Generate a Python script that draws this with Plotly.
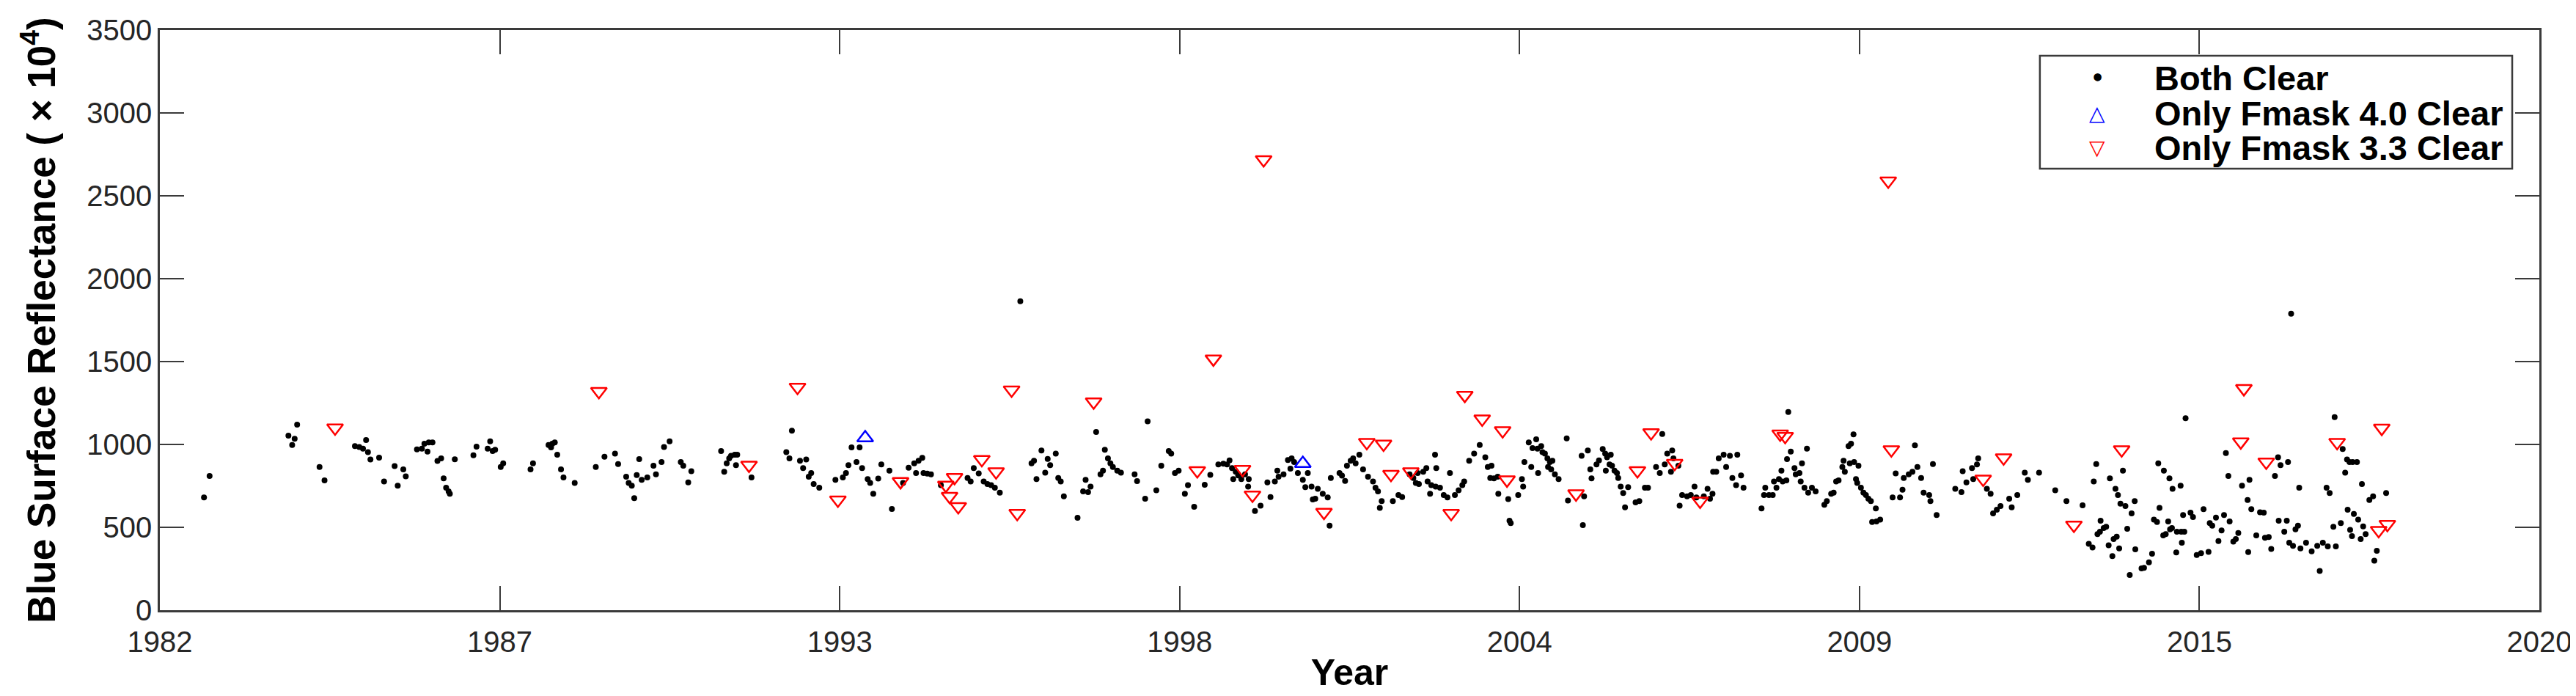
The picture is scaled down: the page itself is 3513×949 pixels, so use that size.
import datetime as dt
import plotly.graph_objects as go

# ---------------- data (decimal year, reflectance x 1e4) ----------------
both_year = [
    1982.95, 1983.04, 1984.31, 1984.41, 1984.37, 1984.45, 1984.81, 1984.89, 1985.38, 1985.45,
    1985.51, 1985.56, 1985.59, 1985.63, 1985.77, 1985.85, 1986.02, 1986.07, 1986.16, 1986.20,
    1986.38, 1986.46, 1986.50, 1986.55, 1986.57, 1986.63, 1986.71, 1986.77, 1986.81, 1986.85,
    1986.89, 1986.91, 1986.99, 1987.29, 1987.34, 1987.52, 1987.56, 1987.60, 1987.64, 1987.73,
    1987.77,
    1988.21, 1988.25, 1988.50, 1988.54, 1988.56, 1988.60, 1988.64, 1988.70, 1988.74, 1988.92,
    1989.26, 1989.40, 1989.57, 1989.62, 1989.75, 1989.79, 1989.84, 1989.88, 1989.92, 1989.96,
    1990.00, 1990.09, 1990.19, 1990.23, 1990.32, 1990.36, 1990.45, 1990.63, 1990.67, 1990.75,
    1990.80, 1991.28, 1991.33, 1991.37, 1991.41, 1991.44, 1991.50, 1991.54, 1991.52, 1991.77,
    1992.33, 1992.38, 1992.42, 1992.55, 1992.60, 1992.65, 1992.69, 1992.73, 1992.77, 1992.86,
    1993.12,
    1993.24, 1993.29, 1993.33, 1993.38, 1993.46, 1993.51, 1993.55, 1993.64, 1993.68, 1993.73,
    1993.81, 1993.86, 1993.99, 1994.03, 1994.21, 1994.30, 1994.39, 1994.42, 1994.46, 1994.52,
    1994.54, 1994.60, 1994.66, 1994.82, 1995.25, 1995.30, 1995.35, 1995.43, 1995.51, 1995.57,
    1995.63, 1995.69, 1995.77, 1996.10, 1996.28, 1996.32, 1996.36, 1996.44, 1996.50, 1996.54,
    1996.58, 1996.67, 1996.71, 1996.75, 1996.80, 1997.02, 1997.11, 1997.15, 1997.19, 1997.23,
    1997.32, 1997.39, 1997.43, 1997.46, 1997.51, 1997.55, 1997.59, 1997.66, 1997.72, 1997.94,
    1997.98, 1998.11, 1998.15, 1998.29, 1998.37, 1998.49, 1998.53, 1998.59, 1998.65, 1998.75,
    1998.80, 1998.90, 1999.07, 1999.16, 1999.29, 1999.37, 1999.43, 1999.47, 1999.51, 1999.53,
    1999.57, 1999.61, 1999.66, 1999.72, 1999.77, 1999.78, 1999.88, 1999.97, 2000.08, 2000.13,
    2000.20, 2000.24, 2000.26, 2000.34, 2000.41, 2000.45, 2000.47, 2000.51, 2000.57, 2000.65,
    2000.69, 2000.73, 2000.79, 2000.81, 2000.85, 2000.89, 2000.97, 2001.05, 2001.08, 2001.10,
    2001.24, 2001.28, 2001.33, 2001.36, 2001.42, 2001.46, 2001.50, 2001.56, 2001.62, 2001.70,
    2001.78, 2001.82, 2001.86, 2001.89, 2001.92, 2002.10, 2002.19, 2002.25, 2002.37, 2002.43,
    2002.47, 2002.50, 2002.52, 2002.59, 2002.64, 2002.66, 2002.70, 2002.72, 2002.78, 2002.79,
    2002.80, 2002.86, 2002.92, 2002.98, 2003.02, 2003.10, 2003.16, 2003.22, 2003.25, 2003.33,
    2003.41, 2003.50, 2003.59, 2003.63, 2003.67, 2003.69, 2003.73, 2003.79, 2003.80, 2003.96,
    2003.98, 2004.00, 2004.12, 2004.18, 2004.20, 2004.22,
    2004.29, 2004.33, 2004.35, 2004.41, 2004.43, 2004.44, 2004.49, 2004.51, 2004.55, 2004.59,
    2004.60, 2004.63, 2004.65, 2004.67, 2004.71, 2004.77, 2004.90, 2004.92, 2005.14, 2005.16,
    2005.18, 2005.24, 2005.28, 2005.30, 2005.38, 2005.42, 2005.48, 2005.52, 2005.53, 2005.55,
    2005.59, 2005.61, 2005.63, 2005.67, 2005.71, 2005.73, 2005.77, 2005.81, 2005.84, 2005.89,
    2006.01, 2006.07, 2006.16, 2006.21, 2006.34, 2006.40, 2006.44, 2006.48, 2006.52, 2006.58,
    2006.60, 2006.62, 2006.70, 2006.72, 2006.76, 2006.84, 2006.90, 2006.96, 2006.99, 2007.11,
    2007.17, 2007.21, 2007.25, 2007.26, 2007.31, 2007.35, 2007.43, 2007.47, 2007.53, 2007.57,
    2007.63, 2007.65, 2007.71, 2007.75, 2008.04, 2008.08, 2008.10, 2008.16, 2008.22, 2008.24,
    2008.28, 2008.32, 2008.36, 2008.38, 2008.44, 2008.45, 2008.47, 2008.51, 2008.57, 2008.59,
    2008.65, 2008.67, 2008.69, 2008.73, 2008.77, 2008.79, 2008.85, 2008.91, 2009.05, 2009.09,
    2009.16, 2009.20, 2009.24, 2009.28, 2009.34, 2009.36, 2009.38, 2009.44, 2009.46, 2009.48,
    2009.52, 2009.53, 2009.56, 2009.58, 2009.60, 2009.64, 2009.68,
    2009.72, 2009.76, 2009.80, 2009.82, 2009.88, 2009.89, 2009.95, 2010.15, 2010.20, 2010.27,
    2010.31, 2010.33, 2010.41, 2010.47, 2010.51, 2010.55, 2010.61, 2010.65, 2010.74, 2010.76,
    2010.80, 2010.86, 2011.16, 2011.26, 2011.28, 2011.34, 2011.43, 2011.45, 2011.51, 2011.53,
    2011.67, 2011.73, 2011.77, 2011.83, 2011.89, 2012.03, 2012.07, 2012.16, 2012.28, 2012.33,
    2012.51, 2012.77, 2012.95, 2013.21, 2013.31, 2013.37, 2013.39, 2013.43, 2013.45, 2013.49,
    2013.50, 2013.55, 2013.59, 2013.63, 2013.65, 2013.69, 2013.71, 2013.74, 2013.76, 2013.78,
    2013.80, 2013.82, 2013.86, 2013.90, 2013.93, 2013.97, 2014.00, 2014.05, 2014.06, 2014.16,
    2014.20, 2014.28, 2014.33, 2014.36, 2014.41, 2014.43, 2014.45, 2014.51, 2014.52, 2014.55,
    2014.59, 2014.61, 2014.62, 2014.65, 2014.66, 2014.72, 2014.73, 2014.79, 2014.80, 2014.81,
    2014.83, 2014.85, 2014.87, 2014.95, 2014.99, 2015.05, 2015.12, 2015.16,
    2015.24, 2015.26, 2015.30, 2015.36, 2015.40, 2015.45, 2015.49, 2015.52, 2015.56, 2015.58,
    2015.64, 2015.68, 2015.72, 2015.78, 2015.87, 2015.88, 2015.90, 2015.93, 2016.01, 2016.07,
    2016.13, 2016.15, 2016.21, 2016.25, 2016.31, 2016.36, 2016.37, 2016.40, 2016.46, 2016.50,
    2016.52, 2016.54, 2016.57, 2016.60, 2016.64, 2016.68, 2016.70, 2016.72, 2016.81, 2016.90,
    2016.99, 2017.03, 2017.08, 2017.14, 2017.16, 2017.19, 2017.25, 2017.27, 2017.29, 2017.37,
    2017.40, 2017.44, 2017.47, 2017.48, 2017.51, 2017.52, 2017.55, 2017.56, 2017.58, 2017.63,
    2017.65, 2017.69, 2017.71, 2017.73, 2017.77, 2017.83, 2017.89, 2017.91, 2017.95, 2018.10,
]
both_value = [
    680, 810, 1053, 1034, 997, 1120, 864, 783, 990, 985,
    975, 1027, 953, 909, 920, 776, 869, 751, 850, 808,
    970, 975, 1004, 957, 1012, 1012, 900, 916, 795, 739,
    717, 702, 910, 935, 987, 975, 1019, 960, 968, 864,
    886,
    850, 886, 997, 982, 1004, 1012, 938, 850, 801, 768,
    864, 926, 945, 882, 805, 768, 751, 676, 815, 911,
    786, 801, 872, 820, 894, 985, 1019, 894, 872, 771,
    839, 960, 835, 886, 916, 931, 938, 938, 875, 801,
    953, 916, 1083, 901, 857, 909, 805, 827, 761, 739,
    786,
    801, 827, 875, 982, 894, 982, 857, 791, 768, 702,
    794, 879, 842, 611, 768, 860, 886, 827, 901, 919,
    827, 824, 820, 754, 798, 776, 857, 825, 776, 761,
    754, 739, 709, 1864, 886, 901, 791, 963, 830, 913,
    875, 945, 798, 776, 687, 558, 717, 786, 712, 746,
    1075, 820, 842, 968, 916, 886, 864, 842, 830, 820,
    779, 673, 1139, 724, 872, 960, 945, 827, 842, 702,
    754, 624, 757, 816, 879, 884, 879, 904, 857, 791,
    835, 813, 791, 820, 746, 791, 599, 631, 771, 683,
    776, 842, 805, 820, 906, 854, 916, 894, 827, 786,
    742, 827, 746, 668, 673, 732, 702, 680, 510, 798,
    827, 812, 780, 872, 901, 916, 886, 938, 850, 805,
    776, 739, 717, 617, 658, 658, 695, 683, 820, 798,
    768, 827, 761, 835, 857, 776, 702, 754, 938, 746,
    857, 739, 695, 680, 827, 695, 724, 754, 776, 901,
    945, 997, 923, 864, 798, 872, 795, 805, 702, 670,
    540, 525, 695, 791, 746, 894,
    1012, 864, 978, 1031, 975, 827, 990, 953, 945, 916,
    864, 894, 850, 901, 820, 791, 1036, 661, 931, 513,
    687, 963, 850, 795, 879, 904, 972, 945, 842, 923,
    879, 938, 872, 842, 827, 798, 746, 707, 621, 742,
    650, 658, 739, 739, 864, 827, 1063, 879, 945, 835,
    963, 916, 872, 631, 695, 687, 695, 746, 680, 687,
    732, 673, 702, 835, 835, 916, 938, 864, 931, 798,
    754, 938, 813, 739, 614, 695, 739, 695, 695, 776,
    739, 791, 842, 776, 783, 911, 1196, 957, 857, 820,
    827, 776, 886, 739, 975, 709, 739, 717, 636, 658,
    702, 709, 776, 783, 864, 901, 835, 990, 886, 1004,
    1061, 894, 791, 768, 872, 739, 709,
    695, 673, 658, 532, 614, 535, 547, 680, 825, 680,
    727, 798, 820, 835, 994, 864, 798, 709, 695, 658,
    882, 574, 732, 712, 838, 771, 857, 791, 879, 916,
    732, 702, 584, 606, 628, 673, 621, 695, 830, 786,
    830, 724, 658, 633, 400, 378, 776, 882, 459, 473,
    540, 496, 503, 392, 795, 326, 429, 732, 444, 695,
    373, 643, 842, 628, 491, 212, 584, 658, 367, 252,
    255, 289, 341, 547, 532, 886, 617, 451, 842, 459,
    535, 795, 488, 496, 732, 348, 473, 751, 473, 407,
    574, 473, 1158, 589, 562, 333, 344, 609,
    352, 525, 510, 559, 417, 481, 574, 948, 810, 535,
    414, 429, 466, 751, 665, 351, 786, 609, 451, 591,
    588, 437, 441, 370, 810, 923, 540, 875, 473, 540,
    894, 407, 1789, 388, 488, 510, 739, 373, 407, 355,
    388, 237, 407, 739, 385, 707, 503, 1165, 385, 525,
    972, 830, 909, 606, 894, 484, 447, 894, 581, 894,
    547, 429, 761, 506, 459, 665, 687, 299, 358, 707,
]

fm4_year = [1993.60, 2000.65]
fm4_value = [1040, 885]

fm33_year = [
    1985.06, 1989.31, 1991.73, 1992.51, 1993.16, 1994.17, 1994.90, 1994.96, 1995.04, 1995.10,
    1995.48, 1995.71, 1995.96, 1996.05, 1997.28, 1998.95, 1999.21, 1999.68, 1999.84, 2000.02,
    2000.99, 2001.68, 2001.95, 2002.07, 2002.39, 2003.04, 2003.26, 2003.54, 2003.87, 2003.94,
    2005.05, 2006.04, 2006.26, 2006.64, 2007.05, 2008.34, 2008.42, 2010.08, 2010.13, 2011.61,
    2011.94, 2013.07, 2013.84, 2015.76, 2015.81, 2016.17, 2017.31, 2017.98, 2018.03, 2018.12,
]
fm33_value = [
    1100, 1320, 875, 1345, 665, 776, 754, 687, 801, 625,
    909, 835, 1329, 584, 1257, 842, 1516, 850, 695, 2718,
    591, 1012, 1002, 820, 835, 584, 1297, 1154, 1083, 786,
    702, 842, 1071, 886, 658, 1063, 1049, 2590, 968, 791,
    919, 513, 968, 1016, 1337, 894, 1012, 481, 1098, 518,
]

# axis ticks (MATLAB datetick positions, every 2000 days)
tick_dates = ["1982-03-29", "1987-09-19", "1993-03-11", "1998-09-01",
              "2004-02-22", "2009-08-14", "2015-02-04", "2020-07-27"]
tick_labels = ["1982", "1987", "1993", "1998", "2004", "2009", "2015", "2020"]
y_ticks = [0, 500, 1000, 1500, 2000, 2500, 3000, 3500]

legend_labels = ["Both Clear", "Only Fmask 4.0 Clear", "Only Fmask 3.3 Clear"]
legend_glyphs = ["•", "△", "▽"]
legend_colors = ["#000000", "#0000ff", "#ff0000"]


def to_date(y):
    base = dt.datetime(int(y), 1, 1)
    nxt = dt.datetime(int(y) + 1, 1, 1)
    return base + (nxt - base) * (y - int(y))


FONT = "Liberation Sans, Arial, Helvetica, sans-serif"
AX = "#3a3a3a"

fig = go.Figure()
fig.add_trace(go.Scatter(
    x=[to_date(v) for v in both_year], y=both_value, mode="markers",
    name=legend_labels[0], marker=dict(symbol="circle", size=8, color="black", line=dict(width=0)),
))
fig.add_trace(go.Scatter(
    x=[to_date(v) for v in fm4_year], y=fm4_value, mode="markers",
    name=legend_labels[1],
    marker=dict(symbol="triangle-up-open", size=19, color="#0000ff", line=dict(width=2.5, color="#0000ff")),
))
fig.add_trace(go.Scatter(
    x=[to_date(v) for v in fm33_year], y=fm33_value, mode="markers",
    name=legend_labels[2],
    marker=dict(symbol="triangle-down-open", size=19, color="#ff0000", line=dict(width=2.5, color="#ff0000")),
))

axis_common = dict(
    showline=True, linewidth=2.5, linecolor=AX, mirror="ticks",
    ticks="inside", ticklen=33, tickwidth=2, tickcolor=AX,
    showgrid=False, zeroline=False,
    tickfont=dict(family=FONT, size=40, color="#262626"),
)

fig.update_xaxes(
    type="date", range=[tick_dates[0], tick_dates[-1]],
    tickmode="array", tickvals=tick_dates, ticktext=tick_labels,
    ticklabelstandoff=6,
    title=dict(text="Year", font=dict(family=FONT, size=50, color="black", weight="bold"), standoff=4),
    **axis_common,
)
fig.update_yaxes(
    range=[0, 3500], tickmode="array", tickvals=y_ticks, ticktext=[str(v) for v in y_ticks],
    title=dict(text="Blue Surface Reflectance ( × 10<sup>4</sup>)",
               font=dict(family=FONT, size=53, color="black", weight="bold"), standoff=26),
    **axis_common,
)

# legend box (MATLAB-style, tight rows)
box_x0, box_x1, box_y0, box_y1 = 0.7901, 0.9886, 0.7611, 0.9558
row_y = [0.9178, 0.8571, 0.7977]
sym_x, txt_x = 0.8142, 0.8376
fig.add_shape(type="rect", xref="paper", yref="paper",
              x0=box_x0, x1=box_x1, y0=box_y0, y1=box_y1,
              line=dict(color=AX, width=2.5), fillcolor="white", layer="above")
glyph_sizes = [30, 28, 28]
for lab, gl, col, yy, gs in zip(legend_labels, legend_glyphs, legend_colors, row_y, glyph_sizes):
    fig.add_annotation(xref="paper", yref="paper", x=sym_x, y=yy, text=gl, showarrow=False,
                       xanchor="center", yanchor="middle",
                       font=dict(family="DejaVu Sans", size=gs, color=col, weight="bold"))
    fig.add_annotation(xref="paper", yref="paper", x=txt_x, y=yy, text=lab, showarrow=False,
                       xanchor="left", yanchor="middle",
                       font=dict(family=FONT, size=47, color="black", weight="bold"))

fig.update_layout(
    width=3513, height=949,
    margin=dict(l=210, r=58, t=33, b=125, autoexpand=False),
    paper_bgcolor="white", plot_bgcolor="white",
    showlegend=False,
    font=dict(family=FONT),
)

fig.write_html("out.html")
